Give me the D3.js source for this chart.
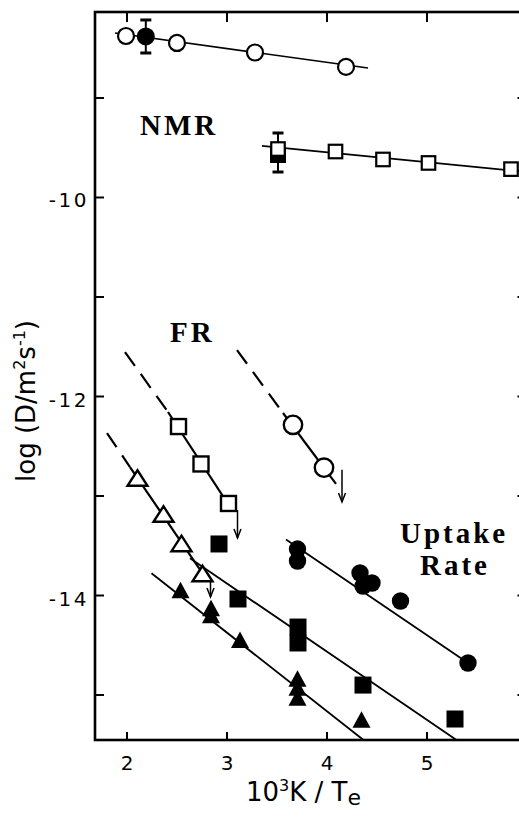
<!DOCTYPE html>
<html>
<head>
<meta charset="utf-8">
<script src="https://cdn.jsdelivr.net/npm/d3@7"></script>
<style>
  body { margin: 0; background: #fff; }
  svg { display: block; }
</style>
</head>
<body>
<div id="chart"></div>
<script>
// axis ticks
const xTicks= [2, 3, 4, 5];
const yTicks= [-15, -14, -13, -12, -11, -10, -9];
const yLabelled= [-10, -12, -14];

// NMR
const nmrCircleOpen= [[1.995, -8.382], [2.505, -8.452], [3.285, -8.548], [4.195, -8.693]];
const nmrCircleFilled= [[2.193, -8.387]];
const nmrSquareOpen= [[3.515, -9.518], [4.09, -9.543], [4.565, -9.623], [5.02, -9.658], [5.845, -9.72]];
const nmrSquareFilled= [[3.515, -9.578]];
const nmrErrors= [[2.193, -8.553, -8.221], [3.515, -9.749, -9.357]];
const nmrCircleLine= [[1.885, -8.352], [4.415, -8.704]];
const nmrSquareLine= [[3.355, -9.487], [6.0, -9.749]];

// FR
const frSquareOpen= [[2.52, -12.307], [2.745, -12.683], [3.02, -13.08]];
const frSquareDash= [[1.985, -11.558], [2.415, -12.161]];
const frSquareSolid= [[2.415, -12.161], [3.055, -13.146]];
const frCircleOpen= [[3.665, -12.29], [3.975, -12.72]];
const frCircleDash= [[3.105, -11.538], [3.565, -12.171]];
const frCircleSolid= [[3.565, -12.171], [4.095, -12.884]];
const frTriOpen= [[2.11, -12.824], [2.37, -13.186], [2.55, -13.482], [2.76, -13.784]];
const frTriDash= [[1.805, -12.372], [2.035, -12.714]];
const frTriSolid= [[2.035, -12.714], [2.805, -13.849]];
// upper limits: x, from, to
const frArrows= [[3.11, -13.146, -13.427], [4.155, -12.74, -13.065], [2.84, -13.85, -14.02]];

// Uptake rate
const upCircles= [[3.71, -13.538], [3.71, -13.658], [4.335, -13.779], [4.455, -13.879], [4.365, -13.91], [4.74, -14.06], [5.415, -14.683]];
const upCircleLine= [[3.595, -13.442], [5.415, -14.683]];
const upSquares= [[2.925, -13.487], [3.115, -14.04], [3.715, -14.322], [3.715, -14.482], [4.365, -14.905], [5.285, -15.246]];
const upSquareLine= [[2.635, -13.631], [5.3, -15.457]];
const upTris= [[2.54, -13.95], [2.845, -14.13], [2.845, -14.2], [3.135, -14.45], [3.71, -14.84], [3.71, -14.93], [3.71, -15.03], [4.35, -15.25]];
const upTriLine= [[2.25, -13.782], [4.37, -15.457]];

const W= 519, H= 817;
const MAR= { top: 12, right: -7.5, bottom: 77, left: 95 };

const svg= d3.select('#chart').append('svg')
  .attr('width', W).attr('height', H)
  .attr('viewBox', `0 0 ${W} ${H}`);

const x= d3.scaleLinear().domain([1.685, 6.0]).range([MAR.left, W-MAR.right]);
const y= d3.scaleLinear().domain([-15.457, -8.141]).range([H-MAR.bottom, MAR.top]);

const SANS= '"DejaVu Sans", sans-serif';
const SERIF= '"Liberation Serif", "Times New Roman", serif';

// frame
svg.append('rect')
  .attr('x', x.range()[0]).attr('y', y.range()[1])
  .attr('width', x.range()[1]-x.range()[0])
  .attr('height', y.range()[0]-y.range()[1])
  .attr('fill', 'none').attr('stroke', '#000').attr('stroke-width', 2.6);

const _styleAxis= g => {
  g.select('.domain').remove();
  g.selectAll('line').attr('stroke', '#000').attr('stroke-width', 2);
  g.attr('font-family', SANS).attr('font-size', 20);
  g.selectAll('text').attr('fill', '#000');
};

svg.append('g')
  .attr('transform', `translate(0,${y.range()[0]})`)
  .call(d3.axisBottom(x).tickValues(xTicks).tickSize(-8).tickSizeOuter(0).tickPadding(16).tickFormat(d3.format('d')))
  .call(_styleAxis);

svg.append('g')
  .attr('transform', `translate(0,${y.range()[1]})`)
  .call(d3.axisTop(x).tickValues(xTicks).tickSize(-10).tickSizeOuter(0).tickFormat(''))
  .call(_styleAxis);

svg.append('g')
  .attr('transform', `translate(${x.range()[0]},0)`)
  .call(d3.axisLeft(y).tickValues(yTicks).tickSize(-9).tickSizeOuter(0).tickPadding(6)
    .tickFormat(d => yLabelled.includes(d) ? String(d) : ''))
  .call(_styleAxis)
  .call(g => g.selectAll('text').attr('dy', '0.5em').attr('letter-spacing', 2.5));

svg.append('g')
  .attr('transform', `translate(${x.range()[1]},0)`)
  .call(d3.axisRight(y).tickValues(yTicks).tickSize(-9).tickSizeOuter(0).tickFormat(''))
  .call(_styleAxis);

// axis titles
const xt= svg.append('text')
  .attr('x', 246).attr('y', 801)
  .attr('font-family', SANS).attr('font-size', 26).attr('fill', '#000');
xt.append('tspan').text('10');
xt.append('tspan').attr('font-size', 16).attr('dy', -10).text('3');
xt.append('tspan').attr('dy', 10).text('K / T');
xt.append('tspan').attr('font-size', 22).attr('dy', 4).text('e');

const yt= svg.append('text')
  .attr('transform', 'translate(35,401) rotate(-90)')
  .attr('text-anchor', 'middle')
  .attr('font-family', SANS).attr('font-size', 26).attr('fill', '#000');
yt.append('tspan').text('log (D/m');
yt.append('tspan').attr('font-size', 16).attr('dy', -10).text('2');
yt.append('tspan').attr('dy', 10).text('s');
yt.append('tspan').attr('font-size', 16).attr('dy', -10).text('-1');
yt.append('tspan').attr('dy', 10).text(')');

// fitted lines
const line= d3.line().x(d => x(d[0])).y(d => y(d[1]));
const _seg= (pts, w, dash) => svg.append('path')
  .attr('d', line(pts))
  .attr('fill', 'none').attr('stroke', '#000')
  .attr('stroke-width', w)
  .attr('stroke-dasharray', dash || null);

_seg(nmrCircleLine, 1.7);
_seg(nmrSquareLine, 1.7);
_seg(frSquareDash, 2.2, '17,10');
_seg(frSquareSolid, 2.2);
_seg(frCircleDash, 2.2, '17,10');
_seg(frCircleSolid, 2.2);
_seg(frTriDash, 2.2, '17,10');
_seg(frTriSolid, 2.2);
_seg(upCircleLine, 1.8);
_seg(upSquareLine, 1.8);
_seg(upTriLine, 1.8);

// upper limit arrows
for (const [ax, y0, y1] of frArrows) {
  const px= x(ax), tip= y(y1);
  svg.append('line')
    .attr('x1', px).attr('x2', px).attr('y1', y(y0)).attr('y2', tip)
    .attr('stroke', '#000').attr('stroke-width', 1.5);
  svg.append('path')
    .attr('d', `M${px-3.5},${tip-9} L${px},${tip} L${px+3.5},${tip-9}`)
    .attr('fill', 'none').attr('stroke', '#000').attr('stroke-width', 1.5);
}

// error bars
for (const [ex, lo, hi] of nmrErrors) {
  const px= x(ex);
  svg.append('line')
    .attr('x1', px).attr('x2', px).attr('y1', y(lo)).attr('y2', y(hi))
    .attr('stroke', '#000').attr('stroke-width', 2);
  for (const v of [lo, hi]) {
    svg.append('line')
      .attr('x1', px-5.5).attr('x2', px+5.5).attr('y1', y(v)).attr('y2', y(v))
      .attr('stroke', '#000').attr('stroke-width', 3);
  }
}

// markers
const _circles= (pts, r, filled, sw) => svg.append('g').selectAll('circle').data(pts).join('circle')
  .attr('cx', d => x(d[0])).attr('cy', d => y(d[1])).attr('r', r)
  .attr('fill', filled ? '#000' : '#fff')
  .attr('stroke', '#000').attr('stroke-width', filled ? 0 : sw);

const _squares= (pts, s, filled, sw) => svg.append('g').selectAll('rect').data(pts).join('rect')
  .attr('x', d => x(d[0])-s/2).attr('y', d => y(d[1])-s/2)
  .attr('width', s).attr('height', s)
  .attr('fill', filled ? '#000' : '#fff')
  .attr('stroke', '#000').attr('stroke-width', filled ? 0 : sw);

const _tris= (pts, w, h, filled, sw) => svg.append('g').selectAll('path').data(pts).join('path')
  .attr('d', d => {
    const cx= x(d[0]), cy= y(d[1]);
    return `M${cx-w/2},${cy+h/2} L${cx+w/2},${cy+h/2} L${cx},${cy-h/2} Z`;
  })
  .attr('fill', filled ? '#000' : '#fff')
  .attr('stroke', '#000').attr('stroke-width', filled ? 0 : sw)
  .attr('stroke-linejoin', 'miter');

_circles(nmrCircleOpen, 8, false, 2.2);
_circles(nmrCircleFilled, 9, true);
_squares(nmrSquareFilled, 16, true);
_squares(nmrSquareOpen, 13.5, false, 2.2);

_squares(frSquareOpen, 15, false, 2.4);
_circles(frCircleOpen, 9.2, false, 2.4);
_tris(frTriOpen, 20, 15.5, false, 2.4);

_squares(upSquares, 17, true);
_tris(upTris, 18, 16.5, true);
_circles(upCircles, 8.7, true);

// group labels
const _label= (tx, ty, s) => svg.append('text')
  .attr('x', tx).attr('y', ty)
  .attr('font-family', SERIF).attr('font-weight', 'bold')
  .attr('font-size', 29).attr('letter-spacing', 3)
  .attr('fill', '#000')
  .text(s);

_label(140, 135, 'NMR');
_label(170, 342, 'FR');
_label(400, 543, 'Uptake');
_label(420, 575, 'Rate');
</script>
</body>
</html>
